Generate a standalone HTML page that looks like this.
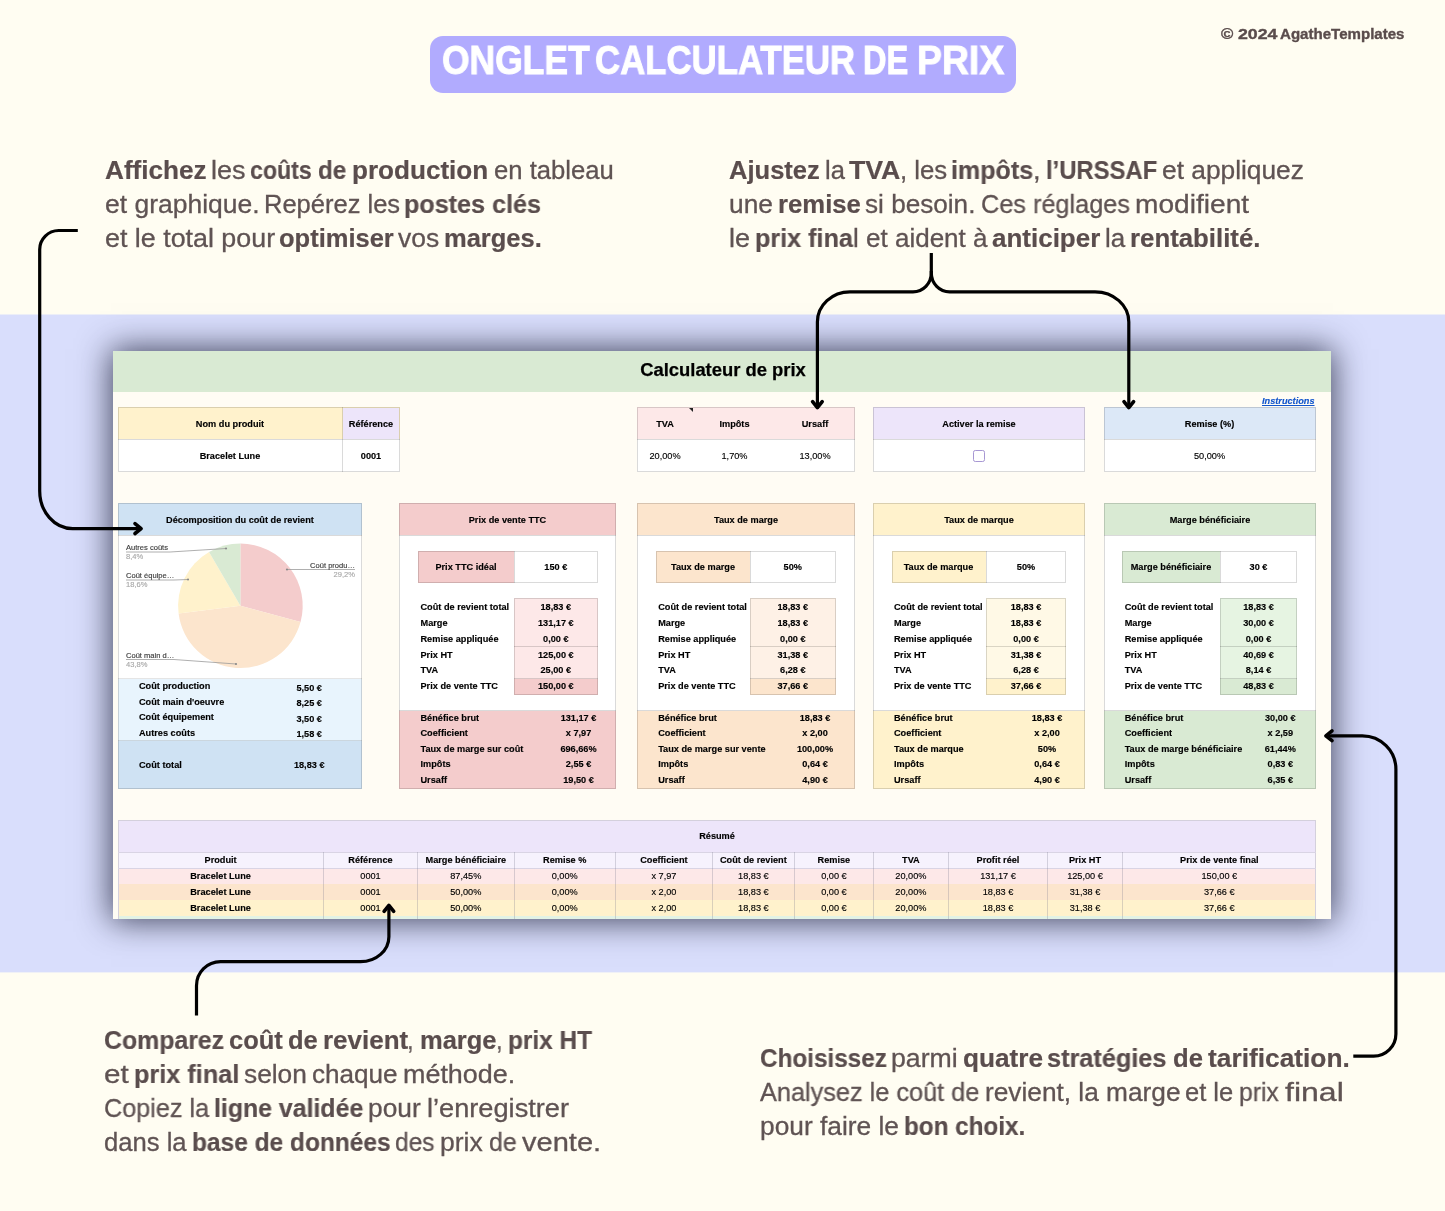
<!DOCTYPE html><html><head><meta charset="utf-8"><title>Onglet calculateur de prix</title><style>
*{margin:0;padding:0;box-sizing:border-box}
html,body{width:1445px;height:1211px;overflow:hidden;background:#fffdf2;font-family:"Liberation Sans",sans-serif}
.abs{position:absolute}
#band{position:absolute;left:0;top:314px;width:1445px;height:658px;background:#d9defc}
#pill{position:absolute;left:429.5px;top:36px;width:586.5px;height:57px;border-radius:13px;background:#b1abfe}
.ttl{position:absolute;top:36.8px;font-size:40px;will-change:transform;line-height:46px;font-weight:bold;color:#fff;white-space:nowrap;transform-origin:0 0;-webkit-text-stroke:0.9px #fff}
.copy{will-change:transform;position:absolute;top:24px;-webkit-text-stroke:0.35px #5a4c4c;font-size:14.6px;line-height:20px;font-weight:bold;color:#5a4c4c;white-space:nowrap;transform-origin:0 0}
.t{position:absolute;font-size:25.5px;line-height:34px;color:#5f5353;white-space:nowrap;transform-origin:0 50%;font-weight:normal;will-change:transform;-webkit-text-stroke:0.3px #5f5353}
b.t{color:#5a4d4d;font-weight:bold;-webkit-text-stroke:0.2px #5a4d4d}
#sheet{will-change:transform;position:absolute;left:113px;top:351px;width:1218px;height:568px;background:#fffcf4;box-shadow:0 0 31px 2px rgba(14,17,40,.76);overflow:hidden;font-size:9.18px;font-weight:bold;color:#000;-webkit-text-stroke:0.14px}
#sheet div{position:absolute;white-space:nowrap}
.c{text-align:center}
.n{font-weight:normal}
.bx{border:1px solid #cfcfcf}
</style></head><body>
<div id="band"></div><div class="abs" style="left:0;top:314px;width:1445px;height:1px;background:#eceef7"></div><div class="abs" style="left:0;top:972px;width:1445px;height:1px;background:#f0f1f6"></div>
<div id="pill"></div>
<div class="copy" style="left:1221.4px;transform:scaleX(1.1425)">©</div>
<div class="copy" style="left:1237.5px;transform:scaleX(1.2135)">2024</div>
<div class="copy" style="left:1280.4px;transform:scaleX(1.0327)">AgatheTemplates</div>
<div class="ttl" style="left:442.0px;transform:scaleX(0.8862)">ONGLET</div>
<div class="ttl" style="left:595.2px;transform:scaleX(0.8693)">CALCULATEUR</div>
<div class="ttl" style="left:862.8px;transform:scaleX(0.8115)">DE</div>
<div class="ttl" style="left:917.1px;transform:scaleX(0.9340)">PRIX</div>
<b class="t" style="left:104.9px;top:153px;transform:scaleX(1.0253)">Affichez</b>
<span class="t" style="left:211.4px;top:153px;transform:scaleX(1.0580)">les</span>
<b class="t" style="left:249.9px;top:153px;transform:scaleX(0.9086)">coûts</b>
<b class="t" style="left:317.6px;top:153px;transform:scaleX(0.9508)">de</b>
<b class="t" style="left:351.8px;top:153px;transform:scaleX(1.0230)">production</b>
<span class="t" style="left:493.5px;top:153px;transform:scaleX(1.0058)">en tableau</span>
<span class="t" style="left:104.9px;top:187px;transform:scaleX(1.0385)">et graphique.</span>
<span class="t" style="left:264.3px;top:187px;transform:scaleX(0.9965)">Repérez les</span>
<b class="t" style="left:403.9px;top:187px;transform:scaleX(0.9863)">postes clés</b>
<span class="t" style="left:104.9px;top:221px;transform:scaleX(1.0525)">et le total pour</span>
<b class="t" style="left:278.7px;top:221px;transform:scaleX(0.9993)">optimiser</b>
<span class="t" style="left:398.2px;top:221px;transform:scaleX(1.0381)">vos</span>
<b class="t" style="left:444.2px;top:221px;transform:scaleX(0.9999)">marges.</b>
<b class="t" style="left:729.2px;top:153px;transform:scaleX(1.0012)">Ajustez</b>
<span class="t" style="left:825.1px;top:153px;transform:scaleX(1.0020)">la</span>
<b class="t" style="left:849.2px;top:153px;transform:scaleX(1.0466)">TVA</b>
<span class="t" style="left:900.3px;top:153px;transform:scaleX(1.0090)">, les</span>
<b class="t" style="left:951.4px;top:153px;transform:scaleX(0.9821)">impôts</b>
<span class="t" style="left:1032.9px;top:153px;transform:scaleX(1.0714)">,</span>
<b class="t" style="left:1046.0px;top:153px;transform:scaleX(0.9343)">l’URSSAF</b>
<span class="t" style="left:1161.5px;top:153px;transform:scaleX(1.0318)">et appliquez</span>
<span class="t" style="left:729.2px;top:187px;transform:scaleX(1.0318)">une</span>
<b class="t" style="left:777.8px;top:187px;transform:scaleX(1.0081)">remise</b>
<span class="t" style="left:865.0px;top:187px;transform:scaleX(1.0247)">si besoin.</span>
<span class="t" style="left:981.3px;top:187px;transform:scaleX(0.9910)">Ces réglages</span>
<span class="t" style="left:1135.3px;top:187px;transform:scaleX(1.1026)">modifient</span>
<span class="t" style="left:729.2px;top:221px;transform:scaleX(1.0574)">le</span>
<b class="t" style="left:755.3px;top:221px;transform:scaleX(0.9870)">prix fina</b>
<span class="t" style="left:852.5px;top:221px;transform:scaleX(1.0200)">l et aident à</span>
<b class="t" style="left:991.6px;top:221px;transform:scaleX(1.0188)">anticiper</b>
<span class="t" style="left:1105.0px;top:221px;transform:scaleX(1.0172)">la</span>
<b class="t" style="left:1129.8px;top:221px;transform:scaleX(1.0112)">rentabilité.</b>
<b class="t" style="left:104.2px;top:1023px;transform:scaleX(0.9742)">Comparez</b>
<b class="t" style="left:229.1px;top:1023px;transform:scaleX(0.9995)">coût</b>
<b class="t" style="left:287.7px;top:1023px;transform:scaleX(0.9877)">de</b>
<b class="t" style="left:322.6px;top:1023px;transform:scaleX(1.0188)">revient</b>
<span class="t" style="left:407.2px;top:1023px;transform:scaleX(0.9304)">,</span>
<b class="t" style="left:419.8px;top:1023px;transform:scaleX(0.9994)">marge</b>
<span class="t" style="left:496.1px;top:1023px;transform:scaleX(0.9304)">,</span>
<b class="t" style="left:508.3px;top:1023px;transform:scaleX(0.9574)">prix HT</b>
<span class="t" style="left:104.2px;top:1057px;transform:scaleX(1.1606)">et</span>
<b class="t" style="left:133.7px;top:1057px;transform:scaleX(0.9908)">prix final</b>
<span class="t" style="left:243.5px;top:1057px;transform:scaleX(1.0300)">selon</span>
<span class="t" style="left:311.8px;top:1057px;transform:scaleX(1.0230)">chaque</span>
<span class="t" style="left:402.8px;top:1057px;transform:scaleX(1.0552)">méthode.</span>
<span class="t" style="left:104.2px;top:1091px;transform:scaleX(0.9877)">Copiez la</span>
<b class="t" style="left:214.0px;top:1091px;transform:scaleX(0.9748)">ligne validée</b>
<span class="t" style="left:368.0px;top:1091px;transform:scaleX(1.0324)">pour</span>
<span class="t" style="left:427.0px;top:1091px;transform:scaleX(1.0659)">l’enregistrer</span>
<span class="t" style="left:104.2px;top:1125px;transform:scaleX(1.0044)">dans la</span>
<b class="t" style="left:191.6px;top:1125px;transform:scaleX(0.9599)">base de données</b>
<span class="t" style="left:394.6px;top:1125px;transform:scaleX(0.9605)">des</span>
<span class="t" style="left:439.9px;top:1125px;transform:scaleX(1.0391)">prix</span>
<span class="t" style="left:489.2px;top:1125px;transform:scaleX(0.9727)">de</span>
<span class="t" style="left:521.6px;top:1125px;transform:scaleX(1.1386)">vente.</span>
<b class="t" style="left:759.5px;top:1041px;transform:scaleX(0.9526)">Choisissez</b>
<span class="t" style="left:891.3px;top:1041px;transform:scaleX(1.0460)">parmi</span>
<b class="t" style="left:962.9px;top:1041px;transform:scaleX(1.0277)">quatre</b>
<b class="t" style="left:1047.0px;top:1041px;transform:scaleX(0.9918)">stratégies</b>
<b class="t" style="left:1172.7px;top:1041px;transform:scaleX(1.0045)">de</b>
<b class="t" style="left:1207.9px;top:1041px;transform:scaleX(1.0317)">tarification.</b>
<span class="t" style="left:759.5px;top:1075px;transform:scaleX(0.9917)">Analysez le coût de</span>
<span class="t" style="left:984.7px;top:1075px;transform:scaleX(1.0294)">revient, la marge</span>
<span class="t" style="left:1184.8px;top:1075px;transform:scaleX(0.9979)">et le</span>
<span class="t" style="left:1238.8px;top:1075px;transform:scaleX(0.9685)">prix</span>
<span class="t" style="left:1284.5px;top:1075px;transform:scaleX(1.2569)">final</span>
<span class="t" style="left:759.5px;top:1109px;transform:scaleX(1.0314)">pour faire le</span>
<b class="t" style="left:903.7px;top:1109px;transform:scaleX(0.9506)">bon choix.</b>
<div id="sheet"><div style="left:0.0px;top:0.0px;width:1219.0px;height:41.0px;background:#d9ead3;"></div><div style="left:510.0px;width:200px;text-align:center;top:13.5px;line-height:12px;font-size:18.4px;line-height:22px;margin-top:-5.1px;color:#000;-webkit-text-stroke:0.25px #000;">Calculateur de prix</div><div style="left:1001.5px;width:200px;text-align:right;top:44.0px;line-height:12px;color:#1155cc;text-decoration:underline;"><i>Instructions</i></div><div style="left:5.0px;top:56.0px;width:282.0px;height:65.0px;background:#fff;"></div><div style="left:5.0px;top:56.0px;width:282.0px;height:32.0px;background:#fff2cc;"></div><div style="left:5.0px;top:56.0px;width:282.0px;height:65.0px;border:1px solid rgba(0,0,0,.145);"></div><div style="left:5.0px;top:88.0px;width:282.0px;height:1.0px;background:rgba(0,0,0,.145);"></div><div style="left:230.0px;top:57.0px;width:56.0px;height:31.0px;background:#ede5fa;"></div><div style="left:229.0px;top:56.0px;width:1.0px;height:65.0px;background:rgba(0,0,0,.145);"></div><div style="left:17.0px;width:200px;text-align:center;top:66.5px;line-height:12px;">Nom du produit</div><div style="left:158.0px;width:200px;text-align:center;top:66.5px;line-height:12px;">Référence</div><div style="left:17.0px;width:200px;text-align:center;top:98.5px;line-height:12px;">Bracelet Lune</div><div style="left:158.0px;width:200px;text-align:center;top:98.5px;line-height:12px;">0001</div><div style="left:524.0px;top:56.0px;width:218.0px;height:65.0px;background:#fff;"></div><div style="left:524.0px;top:56.0px;width:218.0px;height:32.0px;background:#fde8e8;"></div><div style="left:524.0px;top:56.0px;width:218.0px;height:65.0px;border:1px solid rgba(0,0,0,.145);"></div><div style="left:524.0px;top:88.0px;width:218.0px;height:1.0px;background:rgba(0,0,0,.145);"></div><div style="left:452.0px;width:200px;text-align:center;top:66.5px;line-height:12px;">TVA</div><div class="n" style="left:452.0px;width:200px;text-align:center;top:98.5px;line-height:12px;">20,00%</div><div style="left:521.5px;width:200px;text-align:center;top:66.5px;line-height:12px;">Impôts</div><div class="n" style="left:521.5px;width:200px;text-align:center;top:98.5px;line-height:12px;">1,70%</div><div style="left:602.0px;width:200px;text-align:center;top:66.5px;line-height:12px;">Ursaff</div><div class="n" style="left:602.0px;width:200px;text-align:center;top:98.5px;line-height:12px;">13,00%</div><div style="left:576px;top:56.5px;width:0;height:0;border-left:4px solid transparent;border-top:4px solid #222;"></div><div style="left:760.0px;top:56.0px;width:212.0px;height:65.0px;background:#fff;"></div><div style="left:760.0px;top:56.0px;width:212.0px;height:32.0px;background:#ede5fa;"></div><div style="left:760.0px;top:56.0px;width:212.0px;height:65.0px;border:1px solid rgba(0,0,0,.145);"></div><div style="left:760.0px;top:88.0px;width:212.0px;height:1.0px;background:rgba(0,0,0,.145);"></div><div style="left:766.0px;width:200px;text-align:center;top:66.5px;line-height:12px;">Activer la remise</div><div style="left:860.4px;top:99.3px;width:11.6px;height:11.6px;background:#fff;border:1.6px solid #a797d3;border-radius:2.3px;"></div><div style="left:991.0px;top:56.0px;width:212.0px;height:65.0px;background:#fff;"></div><div style="left:991.0px;top:56.0px;width:212.0px;height:32.0px;background:#dce8f7;"></div><div style="left:991.0px;top:56.0px;width:212.0px;height:65.0px;border:1px solid rgba(0,0,0,.145);"></div><div style="left:991.0px;top:88.0px;width:212.0px;height:1.0px;background:rgba(0,0,0,.145);"></div><div style="left:996.5px;width:200px;text-align:center;top:66.5px;line-height:12px;">Remise (%)</div><div class="n" style="left:996.5px;width:200px;text-align:center;top:98.5px;line-height:12px;">50,00%</div><div style="left:5.0px;top:152.0px;width:244.0px;height:286.0px;background:#fff;"></div><div style="left:5.0px;top:152.0px;width:244.0px;height:32.0px;background:#cfe2f3;"></div><div style="left:5.0px;top:184.0px;width:244.0px;height:1.0px;background:rgba(0,0,0,.145);"></div><div style="left:27.0px;width:200px;text-align:center;top:162.5px;line-height:12px;">Décomposition du coût de revient</div><div style="left:5.0px;top:328.0px;width:244.0px;height:62.0px;background:#e8f4fd;"></div><div style="left:5.0px;top:390.0px;width:244.0px;height:48.0px;background:#cfe2f3;"></div><div style="left:5.0px;top:327.0px;width:244.0px;height:1.0px;background:rgba(0,0,0,.10);"></div><div style="left:5.0px;top:389.0px;width:244.0px;height:1.0px;background:rgba(0,0,0,.12);"></div><div style="left:5.0px;top:152.0px;width:244.0px;height:286.0px;border:1px solid rgba(0,0,0,.145);"></div><div style="left:26.0px;top:329.0px;line-height:12px;">Coût production</div><div style="left:96.2px;width:200px;text-align:center;top:330.5px;line-height:12px;">5,50 €</div><div style="left:26.0px;top:344.5px;line-height:12px;">Coût main d'oeuvre</div><div style="left:96.2px;width:200px;text-align:center;top:346.0px;line-height:12px;">8,25 €</div><div style="left:26.0px;top:360.0px;line-height:12px;">Coût équipement</div><div style="left:96.2px;width:200px;text-align:center;top:361.5px;line-height:12px;">3,50 €</div><div style="left:26.0px;top:375.5px;line-height:12px;">Autres coûts</div><div style="left:96.2px;width:200px;text-align:center;top:377.0px;line-height:12px;">1,58 €</div><div style="left:26.0px;top:408.0px;line-height:12px;">Coût total</div><div style="left:96.2px;width:200px;text-align:center;top:408.0px;line-height:12px;">18,83 €</div><svg style="position:absolute;left:0;top:0" width="1219" height="568" viewBox="0 0 1219 568"><path d="M127.4,254.8 L127.40,192.50 A62.3,62.3 0 0 1 187.54,271.05 Z" fill="#f4cccc"/><path d="M127.4,254.8 L187.54,271.05 A62.3,62.3 0 0 1 65.59,262.61 Z" fill="#fce5cd"/><path d="M127.4,254.8 L65.59,262.61 A62.3,62.3 0 0 1 96.02,200.98 Z" fill="#fff2cc"/><path d="M127.4,254.8 L96.02,200.98 A62.3,62.3 0 0 1 127.40,192.50 Z" fill="#d9ead3"/><polyline points="13.0,201.0 57.0,201.0 113.0,197.5" fill="none" stroke="#9a9a9a" stroke-width="0.8"/><circle cx="113" cy="197.5" r="1.1" fill="#8a8a8a"/><polyline points="13.0,229.0 61.0,229.0 75.0,228.5" fill="none" stroke="#9a9a9a" stroke-width="0.8"/><circle cx="75" cy="228.5" r="1.1" fill="#8a8a8a"/><polyline points="13.0,308.5 61.0,308.5 123.0,313.0" fill="none" stroke="#9a9a9a" stroke-width="0.8"/><circle cx="123" cy="313" r="1.1" fill="#8a8a8a"/><polyline points="242.0,218.5 199.0,218.5 174.0,218.5" fill="none" stroke="#9a9a9a" stroke-width="0.8"/><circle cx="174" cy="218.5" r="1.1" fill="#8a8a8a"/></svg><div style="left:13.0px;top:190.0px;line-height:12px;font-weight:normal;font-size:7.55px;color:#3a3a3a;margin-top:0.6px;">Autres coûts</div><div style="left:13.0px;top:199.5px;line-height:12px;font-weight:normal;font-size:7.55px;color:#a8a8a8;margin-top:0.3px;">8,4%</div><div style="left:13.0px;top:218.0px;line-height:12px;font-weight:normal;font-size:7.55px;color:#3a3a3a;margin-top:0.6px;">Coût équipe…</div><div style="left:13.0px;top:227.5px;line-height:12px;font-weight:normal;font-size:7.55px;color:#a8a8a8;margin-top:0.3px;">18,6%</div><div style="left:13.0px;top:298.0px;line-height:12px;font-weight:normal;font-size:7.55px;color:#3a3a3a;margin-top:0.6px;">Coût main d…</div><div style="left:13.0px;top:307.5px;line-height:12px;font-weight:normal;font-size:7.55px;color:#a8a8a8;margin-top:0.3px;">43,8%</div><div style="left:42.0px;width:200px;text-align:right;top:208.0px;line-height:12px;font-weight:normal;font-size:7.55px;color:#3a3a3a;margin-top:0.6px;">Coût produ…</div><div style="left:42.0px;width:200px;text-align:right;top:217.5px;line-height:12px;font-weight:normal;font-size:7.55px;color:#a8a8a8;margin-top:0.3px;">29,2%</div><div style="left:286.0px;top:152.0px;width:217.0px;height:286.0px;background:#fff;"></div><div style="left:286.0px;top:152.0px;width:217.0px;height:32.0px;background:#f4cccc;"></div><div style="left:286.0px;top:184.0px;width:217.0px;height:1.0px;background:rgba(0,0,0,.145);"></div><div style="left:286.0px;top:360.0px;width:217.0px;height:78.0px;background:#f4cccc;"></div><div style="left:286.0px;top:359.0px;width:217.0px;height:1.0px;background:rgba(0,0,0,.145);"></div><div style="left:286.0px;top:152.0px;width:217.0px;height:286.0px;border:1px solid rgba(0,0,0,.145);"></div><div style="left:294.5px;width:200px;text-align:center;top:162.5px;line-height:12px;">Prix de vente TTC</div><div style="left:305.0px;top:200.0px;width:96.0px;height:32.0px;background:#f4cccc;"></div><div style="left:305.0px;top:200.0px;width:180.0px;height:32.0px;border:1px solid rgba(0,0,0,.145);"></div><div style="left:401.0px;top:200.0px;width:1.0px;height:32.0px;background:rgba(0,0,0,.145);"></div><div style="left:253.0px;width:200px;text-align:center;top:210.0px;line-height:12px;">Prix TTC idéal</div><div style="left:342.8px;width:200px;text-align:center;top:210.0px;line-height:12px;">150 €</div><div style="left:401.0px;top:247.0px;width:84.0px;height:97.0px;background:#fde8e8;"></div><div style="left:401.0px;top:328.0px;width:84.0px;height:16.0px;background:#f4cccc;"></div><div style="left:401.0px;top:247.0px;width:84.0px;height:97.0px;border:1px solid rgba(0,0,0,.145);"></div><div style="left:401.0px;top:295.0px;width:84.0px;height:1.0px;background:rgba(0,0,0,.145);"></div><div style="left:401.0px;top:327.0px;width:84.0px;height:1.0px;background:rgba(0,0,0,.145);"></div><div style="left:307.5px;top:249.7px;line-height:12px;">Coût de revient total</div><div style="left:342.8px;width:200px;text-align:center;top:249.7px;line-height:12px;">18,83 €</div><div style="left:307.5px;top:265.6px;line-height:12px;">Marge</div><div style="left:342.8px;width:200px;text-align:center;top:265.6px;line-height:12px;">131,17 €</div><div style="left:307.5px;top:281.6px;line-height:12px;">Remise appliquée</div><div style="left:342.8px;width:200px;text-align:center;top:281.6px;line-height:12px;">0,00 €</div><div style="left:307.5px;top:297.5px;line-height:12px;">Prix HT</div><div style="left:342.8px;width:200px;text-align:center;top:297.5px;line-height:12px;">125,00 €</div><div style="left:307.5px;top:313.4px;line-height:12px;">TVA</div><div style="left:342.8px;width:200px;text-align:center;top:313.4px;line-height:12px;">25,00 €</div><div style="left:307.5px;top:329.4px;line-height:12px;">Prix de vente TTC</div><div style="left:342.8px;width:200px;text-align:center;top:329.4px;line-height:12px;">150,00 €</div><div style="left:307.5px;top:360.5px;line-height:12px;">Bénéfice brut</div><div style="left:365.5px;width:200px;text-align:center;top:360.5px;line-height:12px;">131,17 €</div><div style="left:307.5px;top:376.1px;line-height:12px;">Coefficient</div><div style="left:365.5px;width:200px;text-align:center;top:376.1px;line-height:12px;">x 7,97</div><div style="left:307.5px;top:391.7px;line-height:12px;">Taux de marge sur coût</div><div style="left:365.5px;width:200px;text-align:center;top:391.7px;line-height:12px;">696,66%</div><div style="left:307.5px;top:407.4px;line-height:12px;">Impôts</div><div style="left:365.5px;width:200px;text-align:center;top:407.4px;line-height:12px;">2,55 €</div><div style="left:307.5px;top:423.0px;line-height:12px;">Ursaff</div><div style="left:365.5px;width:200px;text-align:center;top:423.0px;line-height:12px;">19,50 €</div><div style="left:524.0px;top:152.0px;width:218.0px;height:286.0px;background:#fff;"></div><div style="left:524.0px;top:152.0px;width:218.0px;height:32.0px;background:#fce5cd;"></div><div style="left:524.0px;top:184.0px;width:218.0px;height:1.0px;background:rgba(0,0,0,.145);"></div><div style="left:524.0px;top:360.0px;width:218.0px;height:78.0px;background:#fce5cd;"></div><div style="left:524.0px;top:359.0px;width:218.0px;height:1.0px;background:rgba(0,0,0,.145);"></div><div style="left:524.0px;top:152.0px;width:218.0px;height:286.0px;border:1px solid rgba(0,0,0,.145);"></div><div style="left:533.0px;width:200px;text-align:center;top:162.5px;line-height:12px;">Taux de marge</div><div style="left:543.0px;top:200.0px;width:94.0px;height:32.0px;background:#fce5cd;"></div><div style="left:543.0px;top:200.0px;width:180.0px;height:32.0px;border:1px solid rgba(0,0,0,.145);"></div><div style="left:637.0px;top:200.0px;width:1.0px;height:32.0px;background:rgba(0,0,0,.145);"></div><div style="left:490.0px;width:200px;text-align:center;top:210.0px;line-height:12px;">Taux de marge</div><div style="left:579.8px;width:200px;text-align:center;top:210.0px;line-height:12px;">50%</div><div style="left:637.0px;top:247.0px;width:86.0px;height:97.0px;background:#fef1e6;"></div><div style="left:637.0px;top:328.0px;width:86.0px;height:16.0px;background:#fce5cd;"></div><div style="left:637.0px;top:247.0px;width:86.0px;height:97.0px;border:1px solid rgba(0,0,0,.145);"></div><div style="left:637.0px;top:295.0px;width:86.0px;height:1.0px;background:rgba(0,0,0,.145);"></div><div style="left:637.0px;top:327.0px;width:86.0px;height:1.0px;background:rgba(0,0,0,.145);"></div><div style="left:545.2px;top:249.7px;line-height:12px;">Coût de revient total</div><div style="left:579.8px;width:200px;text-align:center;top:249.7px;line-height:12px;">18,83 €</div><div style="left:545.2px;top:265.6px;line-height:12px;">Marge</div><div style="left:579.8px;width:200px;text-align:center;top:265.6px;line-height:12px;">18,83 €</div><div style="left:545.2px;top:281.6px;line-height:12px;">Remise appliquée</div><div style="left:579.8px;width:200px;text-align:center;top:281.6px;line-height:12px;">0,00 €</div><div style="left:545.2px;top:297.5px;line-height:12px;">Prix HT</div><div style="left:579.8px;width:200px;text-align:center;top:297.5px;line-height:12px;">31,38 €</div><div style="left:545.2px;top:313.4px;line-height:12px;">TVA</div><div style="left:579.8px;width:200px;text-align:center;top:313.4px;line-height:12px;">6,28 €</div><div style="left:545.2px;top:329.4px;line-height:12px;">Prix de vente TTC</div><div style="left:579.8px;width:200px;text-align:center;top:329.4px;line-height:12px;">37,66 €</div><div style="left:545.2px;top:360.5px;line-height:12px;">Bénéfice brut</div><div style="left:602.0px;width:200px;text-align:center;top:360.5px;line-height:12px;">18,83 €</div><div style="left:545.2px;top:376.1px;line-height:12px;">Coefficient</div><div style="left:602.0px;width:200px;text-align:center;top:376.1px;line-height:12px;">x 2,00</div><div style="left:545.2px;top:391.7px;line-height:12px;">Taux de marge sur vente</div><div style="left:602.0px;width:200px;text-align:center;top:391.7px;line-height:12px;">100,00%</div><div style="left:545.2px;top:407.4px;line-height:12px;">Impôts</div><div style="left:602.0px;width:200px;text-align:center;top:407.4px;line-height:12px;">0,64 €</div><div style="left:545.2px;top:423.0px;line-height:12px;">Ursaff</div><div style="left:602.0px;width:200px;text-align:center;top:423.0px;line-height:12px;">4,90 €</div><div style="left:760.0px;top:152.0px;width:212.0px;height:286.0px;background:#fff;"></div><div style="left:760.0px;top:152.0px;width:212.0px;height:32.0px;background:#fff2cc;"></div><div style="left:760.0px;top:184.0px;width:212.0px;height:1.0px;background:rgba(0,0,0,.145);"></div><div style="left:760.0px;top:360.0px;width:212.0px;height:78.0px;background:#fff2cc;"></div><div style="left:760.0px;top:359.0px;width:212.0px;height:1.0px;background:rgba(0,0,0,.145);"></div><div style="left:760.0px;top:152.0px;width:212.0px;height:286.0px;border:1px solid rgba(0,0,0,.145);"></div><div style="left:766.0px;width:200px;text-align:center;top:162.5px;line-height:12px;">Taux de marque</div><div style="left:779.0px;top:200.0px;width:94.0px;height:32.0px;background:#fff2cc;"></div><div style="left:779.0px;top:200.0px;width:174.0px;height:32.0px;border:1px solid rgba(0,0,0,.145);"></div><div style="left:873.0px;top:200.0px;width:1.0px;height:32.0px;background:rgba(0,0,0,.145);"></div><div style="left:725.5px;width:200px;text-align:center;top:210.0px;line-height:12px;">Taux de marque</div><div style="left:813.0px;width:200px;text-align:center;top:210.0px;line-height:12px;">50%</div><div style="left:873.0px;top:247.0px;width:80.0px;height:97.0px;background:#fff9e6;"></div><div style="left:873.0px;top:328.0px;width:80.0px;height:16.0px;background:#fff2cc;"></div><div style="left:873.0px;top:247.0px;width:80.0px;height:97.0px;border:1px solid rgba(0,0,0,.145);"></div><div style="left:873.0px;top:295.0px;width:80.0px;height:1.0px;background:rgba(0,0,0,.145);"></div><div style="left:873.0px;top:327.0px;width:80.0px;height:1.0px;background:rgba(0,0,0,.145);"></div><div style="left:781.0px;top:249.7px;line-height:12px;">Coût de revient total</div><div style="left:813.0px;width:200px;text-align:center;top:249.7px;line-height:12px;">18,83 €</div><div style="left:781.0px;top:265.6px;line-height:12px;">Marge</div><div style="left:813.0px;width:200px;text-align:center;top:265.6px;line-height:12px;">18,83 €</div><div style="left:781.0px;top:281.6px;line-height:12px;">Remise appliquée</div><div style="left:813.0px;width:200px;text-align:center;top:281.6px;line-height:12px;">0,00 €</div><div style="left:781.0px;top:297.5px;line-height:12px;">Prix HT</div><div style="left:813.0px;width:200px;text-align:center;top:297.5px;line-height:12px;">31,38 €</div><div style="left:781.0px;top:313.4px;line-height:12px;">TVA</div><div style="left:813.0px;width:200px;text-align:center;top:313.4px;line-height:12px;">6,28 €</div><div style="left:781.0px;top:329.4px;line-height:12px;">Prix de vente TTC</div><div style="left:813.0px;width:200px;text-align:center;top:329.4px;line-height:12px;">37,66 €</div><div style="left:781.0px;top:360.5px;line-height:12px;">Bénéfice brut</div><div style="left:834.0px;width:200px;text-align:center;top:360.5px;line-height:12px;">18,83 €</div><div style="left:781.0px;top:376.1px;line-height:12px;">Coefficient</div><div style="left:834.0px;width:200px;text-align:center;top:376.1px;line-height:12px;">x 2,00</div><div style="left:781.0px;top:391.7px;line-height:12px;">Taux de marque</div><div style="left:834.0px;width:200px;text-align:center;top:391.7px;line-height:12px;">50%</div><div style="left:781.0px;top:407.4px;line-height:12px;">Impôts</div><div style="left:834.0px;width:200px;text-align:center;top:407.4px;line-height:12px;">0,64 €</div><div style="left:781.0px;top:423.0px;line-height:12px;">Ursaff</div><div style="left:834.0px;width:200px;text-align:center;top:423.0px;line-height:12px;">4,90 €</div><div style="left:991.0px;top:152.0px;width:212.0px;height:286.0px;background:#fff;"></div><div style="left:991.0px;top:152.0px;width:212.0px;height:32.0px;background:#d9ead3;"></div><div style="left:991.0px;top:184.0px;width:212.0px;height:1.0px;background:rgba(0,0,0,.145);"></div><div style="left:991.0px;top:360.0px;width:212.0px;height:78.0px;background:#d9ead3;"></div><div style="left:991.0px;top:359.0px;width:212.0px;height:1.0px;background:rgba(0,0,0,.145);"></div><div style="left:991.0px;top:152.0px;width:212.0px;height:286.0px;border:1px solid rgba(0,0,0,.145);"></div><div style="left:997.0px;width:200px;text-align:center;top:162.5px;line-height:12px;">Marge bénéficiaire</div><div style="left:1009.0px;top:200.0px;width:98.0px;height:32.0px;background:#d9ead3;"></div><div style="left:1009.0px;top:200.0px;width:175.0px;height:32.0px;border:1px solid rgba(0,0,0,.145);"></div><div style="left:1107.0px;top:200.0px;width:1.0px;height:32.0px;background:rgba(0,0,0,.145);"></div><div style="left:958.0px;width:200px;text-align:center;top:210.0px;line-height:12px;">Marge bénéficiaire</div><div style="left:1045.5px;width:200px;text-align:center;top:210.0px;line-height:12px;">30 €</div><div style="left:1107.0px;top:247.0px;width:77.0px;height:97.0px;background:#e6f4e2;"></div><div style="left:1107.0px;top:328.0px;width:77.0px;height:16.0px;background:#d9ead3;"></div><div style="left:1107.0px;top:247.0px;width:77.0px;height:97.0px;border:1px solid rgba(0,0,0,.145);"></div><div style="left:1107.0px;top:295.0px;width:77.0px;height:1.0px;background:rgba(0,0,0,.145);"></div><div style="left:1107.0px;top:327.0px;width:77.0px;height:1.0px;background:rgba(0,0,0,.145);"></div><div style="left:1011.7px;top:249.7px;line-height:12px;">Coût de revient total</div><div style="left:1045.5px;width:200px;text-align:center;top:249.7px;line-height:12px;">18,83 €</div><div style="left:1011.7px;top:265.6px;line-height:12px;">Marge</div><div style="left:1045.5px;width:200px;text-align:center;top:265.6px;line-height:12px;">30,00 €</div><div style="left:1011.7px;top:281.6px;line-height:12px;">Remise appliquée</div><div style="left:1045.5px;width:200px;text-align:center;top:281.6px;line-height:12px;">0,00 €</div><div style="left:1011.7px;top:297.5px;line-height:12px;">Prix HT</div><div style="left:1045.5px;width:200px;text-align:center;top:297.5px;line-height:12px;">40,69 €</div><div style="left:1011.7px;top:313.4px;line-height:12px;">TVA</div><div style="left:1045.5px;width:200px;text-align:center;top:313.4px;line-height:12px;">8,14 €</div><div style="left:1011.7px;top:329.4px;line-height:12px;">Prix de vente TTC</div><div style="left:1045.5px;width:200px;text-align:center;top:329.4px;line-height:12px;">48,83 €</div><div style="left:1011.7px;top:360.5px;line-height:12px;">Bénéfice brut</div><div style="left:1067.3px;width:200px;text-align:center;top:360.5px;line-height:12px;">30,00 €</div><div style="left:1011.7px;top:376.1px;line-height:12px;">Coefficient</div><div style="left:1067.3px;width:200px;text-align:center;top:376.1px;line-height:12px;">x 2,59</div><div style="left:1011.7px;top:391.7px;line-height:12px;">Taux de marge bénéficiaire</div><div style="left:1067.3px;width:200px;text-align:center;top:391.7px;line-height:12px;">61,44%</div><div style="left:1011.7px;top:407.4px;line-height:12px;">Impôts</div><div style="left:1067.3px;width:200px;text-align:center;top:407.4px;line-height:12px;">0,83 €</div><div style="left:1011.7px;top:423.0px;line-height:12px;">Ursaff</div><div style="left:1067.3px;width:200px;text-align:center;top:423.0px;line-height:12px;">6,35 €</div><div style="left:5.0px;top:469.0px;width:1198.0px;height:100.0px;background:#fff;border:1px solid #d4d0dc;"></div><div style="left:6.0px;top:470.0px;width:1196.0px;height:31.0px;background:#ede5fa;"></div><div style="left:6.0px;top:501.0px;width:1196.0px;height:16.0px;background:#f6f2fd;"></div><div style="left:6.0px;top:517.0px;width:1196.0px;height:16.0px;background:#fde8e8;"></div><div style="left:6.0px;top:533.0px;width:1196.0px;height:16.0px;background:#fce5cd;"></div><div style="left:6.0px;top:549.0px;width:1196.0px;height:16.0px;background:#fff2cc;"></div><div style="left:6.0px;top:565.0px;width:1196.0px;height:4.0px;background:#e2f3e5;"></div><div style="left:5.0px;top:500.5px;width:1198.0px;height:1.0px;background:#d9d4e4;"></div><div style="left:5.0px;top:516.5px;width:1198.0px;height:1.0px;background:#d9d4e4;"></div><div style="left:210.1px;top:501.0px;width:1.0px;height:68.0px;background:rgba(120,120,140,.28);"></div><div style="left:304.0px;top:501.0px;width:1.0px;height:68.0px;background:rgba(120,120,140,.28);"></div><div style="left:400.5px;top:501.0px;width:1.0px;height:68.0px;background:rgba(120,120,140,.28);"></div><div style="left:502.0px;top:501.0px;width:1.0px;height:68.0px;background:rgba(120,120,140,.28);"></div><div style="left:598.8px;top:501.0px;width:1.0px;height:68.0px;background:rgba(120,120,140,.28);"></div><div style="left:681.1px;top:501.0px;width:1.0px;height:68.0px;background:rgba(120,120,140,.28);"></div><div style="left:759.7px;top:501.0px;width:1.0px;height:68.0px;background:rgba(120,120,140,.28);"></div><div style="left:835.1px;top:501.0px;width:1.0px;height:68.0px;background:rgba(120,120,140,.28);"></div><div style="left:933.8px;top:501.0px;width:1.0px;height:68.0px;background:rgba(120,120,140,.28);"></div><div style="left:1009.2px;top:501.0px;width:1.0px;height:68.0px;background:rgba(120,120,140,.28);"></div><div style="left:504.0px;width:200px;text-align:center;top:479.0px;line-height:12px;">Résumé</div><div style="left:7.6px;width:200px;text-align:center;top:502.8px;line-height:12px;">Produit</div><div style="left:157.5px;width:200px;text-align:center;top:502.8px;line-height:12px;">Référence</div><div style="left:252.8px;width:200px;text-align:center;top:502.8px;line-height:12px;">Marge bénéficiaire</div><div style="left:351.7px;width:200px;text-align:center;top:502.8px;line-height:12px;">Remise %</div><div style="left:450.9px;width:200px;text-align:center;top:502.8px;line-height:12px;">Coefficient</div><div style="left:540.4px;width:200px;text-align:center;top:502.8px;line-height:12px;">Coût de revient</div><div style="left:620.9px;width:200px;text-align:center;top:502.8px;line-height:12px;">Remise</div><div style="left:697.9px;width:200px;text-align:center;top:502.8px;line-height:12px;">TVA</div><div style="left:785.0px;width:200px;text-align:center;top:502.8px;line-height:12px;">Profit réel</div><div style="left:872.0px;width:200px;text-align:center;top:502.8px;line-height:12px;">Prix HT</div><div style="left:1006.3px;width:200px;text-align:center;top:502.8px;line-height:12px;">Prix de vente final</div><div style="left:7.6px;width:200px;text-align:center;top:518.7px;line-height:12px;">Bracelet Lune</div><div class="n" style="left:157.5px;width:200px;text-align:center;top:518.7px;line-height:12px;">0001</div><div class="n" style="left:252.8px;width:200px;text-align:center;top:518.7px;line-height:12px;">87,45%</div><div class="n" style="left:351.7px;width:200px;text-align:center;top:518.7px;line-height:12px;">0,00%</div><div class="n" style="left:450.9px;width:200px;text-align:center;top:518.7px;line-height:12px;">x 7,97</div><div class="n" style="left:540.4px;width:200px;text-align:center;top:518.7px;line-height:12px;">18,83 €</div><div class="n" style="left:620.9px;width:200px;text-align:center;top:518.7px;line-height:12px;">0,00 €</div><div class="n" style="left:697.9px;width:200px;text-align:center;top:518.7px;line-height:12px;">20,00%</div><div class="n" style="left:785.0px;width:200px;text-align:center;top:518.7px;line-height:12px;">131,17 €</div><div class="n" style="left:872.0px;width:200px;text-align:center;top:518.7px;line-height:12px;">125,00 €</div><div class="n" style="left:1006.3px;width:200px;text-align:center;top:518.7px;line-height:12px;">150,00 €</div><div style="left:7.6px;width:200px;text-align:center;top:534.7px;line-height:12px;">Bracelet Lune</div><div class="n" style="left:157.5px;width:200px;text-align:center;top:534.7px;line-height:12px;">0001</div><div class="n" style="left:252.8px;width:200px;text-align:center;top:534.7px;line-height:12px;">50,00%</div><div class="n" style="left:351.7px;width:200px;text-align:center;top:534.7px;line-height:12px;">0,00%</div><div class="n" style="left:450.9px;width:200px;text-align:center;top:534.7px;line-height:12px;">x 2,00</div><div class="n" style="left:540.4px;width:200px;text-align:center;top:534.7px;line-height:12px;">18,83 €</div><div class="n" style="left:620.9px;width:200px;text-align:center;top:534.7px;line-height:12px;">0,00 €</div><div class="n" style="left:697.9px;width:200px;text-align:center;top:534.7px;line-height:12px;">20,00%</div><div class="n" style="left:785.0px;width:200px;text-align:center;top:534.7px;line-height:12px;">18,83 €</div><div class="n" style="left:872.0px;width:200px;text-align:center;top:534.7px;line-height:12px;">31,38 €</div><div class="n" style="left:1006.3px;width:200px;text-align:center;top:534.7px;line-height:12px;">37,66 €</div><div style="left:7.6px;width:200px;text-align:center;top:550.7px;line-height:12px;">Bracelet Lune</div><div class="n" style="left:157.5px;width:200px;text-align:center;top:550.7px;line-height:12px;">0001</div><div class="n" style="left:252.8px;width:200px;text-align:center;top:550.7px;line-height:12px;">50,00%</div><div class="n" style="left:351.7px;width:200px;text-align:center;top:550.7px;line-height:12px;">0,00%</div><div class="n" style="left:450.9px;width:200px;text-align:center;top:550.7px;line-height:12px;">x 2,00</div><div class="n" style="left:540.4px;width:200px;text-align:center;top:550.7px;line-height:12px;">18,83 €</div><div class="n" style="left:620.9px;width:200px;text-align:center;top:550.7px;line-height:12px;">0,00 €</div><div class="n" style="left:697.9px;width:200px;text-align:center;top:550.7px;line-height:12px;">20,00%</div><div class="n" style="left:785.0px;width:200px;text-align:center;top:550.7px;line-height:12px;">18,83 €</div><div class="n" style="left:872.0px;width:200px;text-align:center;top:550.7px;line-height:12px;">31,38 €</div><div class="n" style="left:1006.3px;width:200px;text-align:center;top:550.7px;line-height:12px;">37,66 €</div></div>
<svg class="abs" style="left:0;top:0" width="1445" height="1211" viewBox="0 0 1445 1211"><path d="M77.8,230.5 H58.7 A19,19 0 0 0 39.7,249.5 V491 A33,37.6 0 0 0 72.7,528.6 H141" fill="none" stroke="#000" stroke-width="3.2" stroke-linecap="butt" stroke-linejoin="round"/><path d="M135,523.7 L141.1,528.6 L135,533.5" fill="none" stroke="#000" stroke-width="3.6" stroke-linecap="round" stroke-linejoin="round"/><path d="M931.3,253 V273 A18.3,18.8 0 0 1 913,291.8 H850 A32.6,30.2 0 0 0 817.4,322 V407.5" fill="none" stroke="#000" stroke-width="3.2" stroke-linecap="butt" stroke-linejoin="round"/><path d="M931.3,271 V273 A18.3,18.8 0 0 0 949.6,291.8 H1095 A33.8,30.2 0 0 1 1128.8,322 V407.5" fill="none" stroke="#000" stroke-width="3.2" stroke-linecap="butt" stroke-linejoin="round"/><path d="M812.6,401.6 L817.4,407.7 L822.2,401.6" fill="none" stroke="#000" stroke-width="3.6" stroke-linecap="round" stroke-linejoin="round"/><path d="M1124,401.6 L1128.8,407.7 L1133.6,401.6" fill="none" stroke="#000" stroke-width="3.6" stroke-linecap="round" stroke-linejoin="round"/><path d="M196.5,1015.5 V985.7 A24,24 0 0 1 220.5,961.7 H360.5 A28.4,25 0 0 0 388.9,936.7 V905.5" fill="none" stroke="#000" stroke-width="3.2" stroke-linecap="butt" stroke-linejoin="round"/><path d="M384.1,911.4 L388.9,905.3 L393.7,911.4" fill="none" stroke="#000" stroke-width="3.6" stroke-linecap="round" stroke-linejoin="round"/><path d="M1353.3,1056.2 H1373.7 A22.2,22.2 0 0 0 1395.9,1034 V769.3 A33.6,33.5 0 0 0 1362.3,735.8 H1326" fill="none" stroke="#000" stroke-width="3.2" stroke-linecap="butt" stroke-linejoin="round"/><path d="M1332,730.9 L1325.9,735.8 L1332,740.7" fill="none" stroke="#000" stroke-width="3.6" stroke-linecap="round" stroke-linejoin="round"/></svg>
</body></html>
